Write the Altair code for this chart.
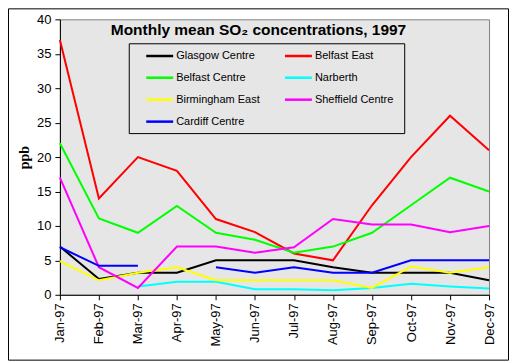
import altair as alt
import pandas as pd

months = ["Jan-97", "Feb-97", "Mar-97", "Apr-97", "May-97", "Jun-97",
          "Jul-97", "Aug-97", "Sep-97", "Oct-97", "Nov-97", "Dec-97"]

title_text = "Monthly mean SO₂ concentrations, 1997"

series_names = ["Glasgow Centre", "Belfast East", "Belfast Centre", "Narberth",
                "Birmingham East", "Sheffield Centre", "Cardiff Centre"]
series_colors = ["#000000", "#FF0000", "#00FF00", "#00FFFF",
                 "#FFFF00", "#FF00FF", "#0000FF"]
# legend is filled column by column: this order shows the entries row by row
legend_order = [0, 2, 4, 6, 1, 3, 5]

glasgow_centre = [7.0, 2.3, 3.2, 3.2, 5.0, 5.0, 5.0, 4.0, 3.2, 3.2, 3.2, 2.1]
belfast_east = [37.0, 14.0, 20.0, 18.0, 11.0, 9.1, 6.0, 5.0, 13.0, 20.0, 26.0, 21.0]
belfast_centre = [22.0, 11.1, 9.0, 12.9, 9.0, 8.0, 6.1, 7.0, 9.0, 13.0, 17.0, 15.0]
narberth = [None, None, 1.2, 1.9, 1.9, 0.8, 0.8, 0.65, 1.0, 1.6, 1.2, 0.9]
birmingham_east = [4.9, 2.1, 3.2, 4.0, 2.1, 2.1, 2.1, 2.1, 1.0, 4.1, 3.2, 4.0]
sheffield_centre = [17.0, 4.0, 1.0, 7.0, 7.0, 6.1, 6.9, 11.0, 10.2, 10.2, 9.1, 10.0]
cardiff_centre = [6.9, 4.2, 4.2, None, 4.0, 3.2, 4.0, 3.2, 3.2, 5.0, 5.0, 5.0]

all_series = [glasgow_centre, belfast_east, belfast_centre, narberth,
              birmingham_east, sheffield_centre, cardiff_centre]

rows = []
for name, vals in zip(series_names, all_series):
    seg = 0
    for m, v in zip(months, vals):
        if v is None:
            seg += 1
            continue
        rows.append({"month": m, "value": v, "site": name, "seg": f"{name}-{seg}"})
df = pd.DataFrame(rows)

leg_domain = [series_names[i] for i in legend_order]
leg_range = [series_colors[i] for i in legend_order]

W, H = 430, 276

frame = alt.Chart(pd.DataFrame({"k": [0]})).mark_rect(
    fill=None, stroke="#000000", strokeWidth=1
).encode(
    x=alt.value(-51.5), x2=alt.value(449.5),
    y=alt.value(-10.5), y2=alt.value(341.5)
)

legend_box = alt.Chart(pd.DataFrame({"k": [0]})).mark_rect(
    fill="#E6E6E6", stroke="#000000", strokeWidth=1
).encode(
    x=alt.value(69.5), x2=alt.value(345.5),
    y=alt.value(24.5), y2=alt.value(114.5)
)

title = alt.Chart(pd.DataFrame({"t": [title_text]})).mark_text(
    font="Liberation Sans", fontSize=15.5, fontWeight="bold", color="#000000",
    align="center", baseline="alphabetic"
).encode(x=alt.value(199), y=alt.value(16), text="t:N")

lines = alt.Chart(df).mark_line(strokeWidth=2).encode(
    x=alt.X("month:N", sort=months,
            scale=alt.Scale(type="point", padding=0, domain=months),
            axis=alt.Axis(title=None, labelAngle=270, labelFontSize=13,
                          labelFont="Liberation Sans", labelColor="#000000",
                          tickSize=5, tickColor="#000000", domainColor="#000000",
                          labelPadding=3, grid=False)),
    y=alt.Y("value:Q", scale=alt.Scale(domain=[0, 40], nice=False),
            axis=alt.Axis(title="ppb", values=list(range(0, 41, 5)),
                          labelFontSize=13, labelFont="Liberation Sans",
                          labelColor="#000000", tickSize=5, tickColor="#000000",
                          domainColor="#000000", labelPadding=4, grid=False,
                          titleFont="Liberation Serif", titleFontSize=14,
                          titleFontWeight="bold", titleColor="#000000",
                          titleX=-35, titleY=H / 2, titleAngle=270,
                          titleAlign="center", titleBaseline="middle")),
    color=alt.Color("site:N",
                    scale=alt.Scale(domain=leg_domain, range=leg_range),
                    legend=alt.Legend(title=None, orient="none", legendX=69, legendY=25,
                                      columns=2, symbolType="M-1.35,0H1.35",
                                      symbolSize=400, symbolStrokeWidth=2.5,
                                      symbolOffset=19.5, labelOffset=5,
                                      columnPadding=7, rowPadding=5, padding=0,
                                      labelFont="Liberation Sans", labelFontSize=11,
                                      labelColor="#000000")),
    detail="seg:N",
)

chart = alt.layer(frame, legend_box, title, lines).properties(
    width=W, height=H,
    autosize=alt.AutoSizeParams(type="none"),
    padding={"left": 52, "top": 11, "right": 20, "bottom": 66},
    background="#FFFFFF",
).configure_view(fill="#E6E6E6", stroke="#808080", strokeWidth=1)

chart.save("out.html", embed_options={"renderer": "svg", "actions": False})
